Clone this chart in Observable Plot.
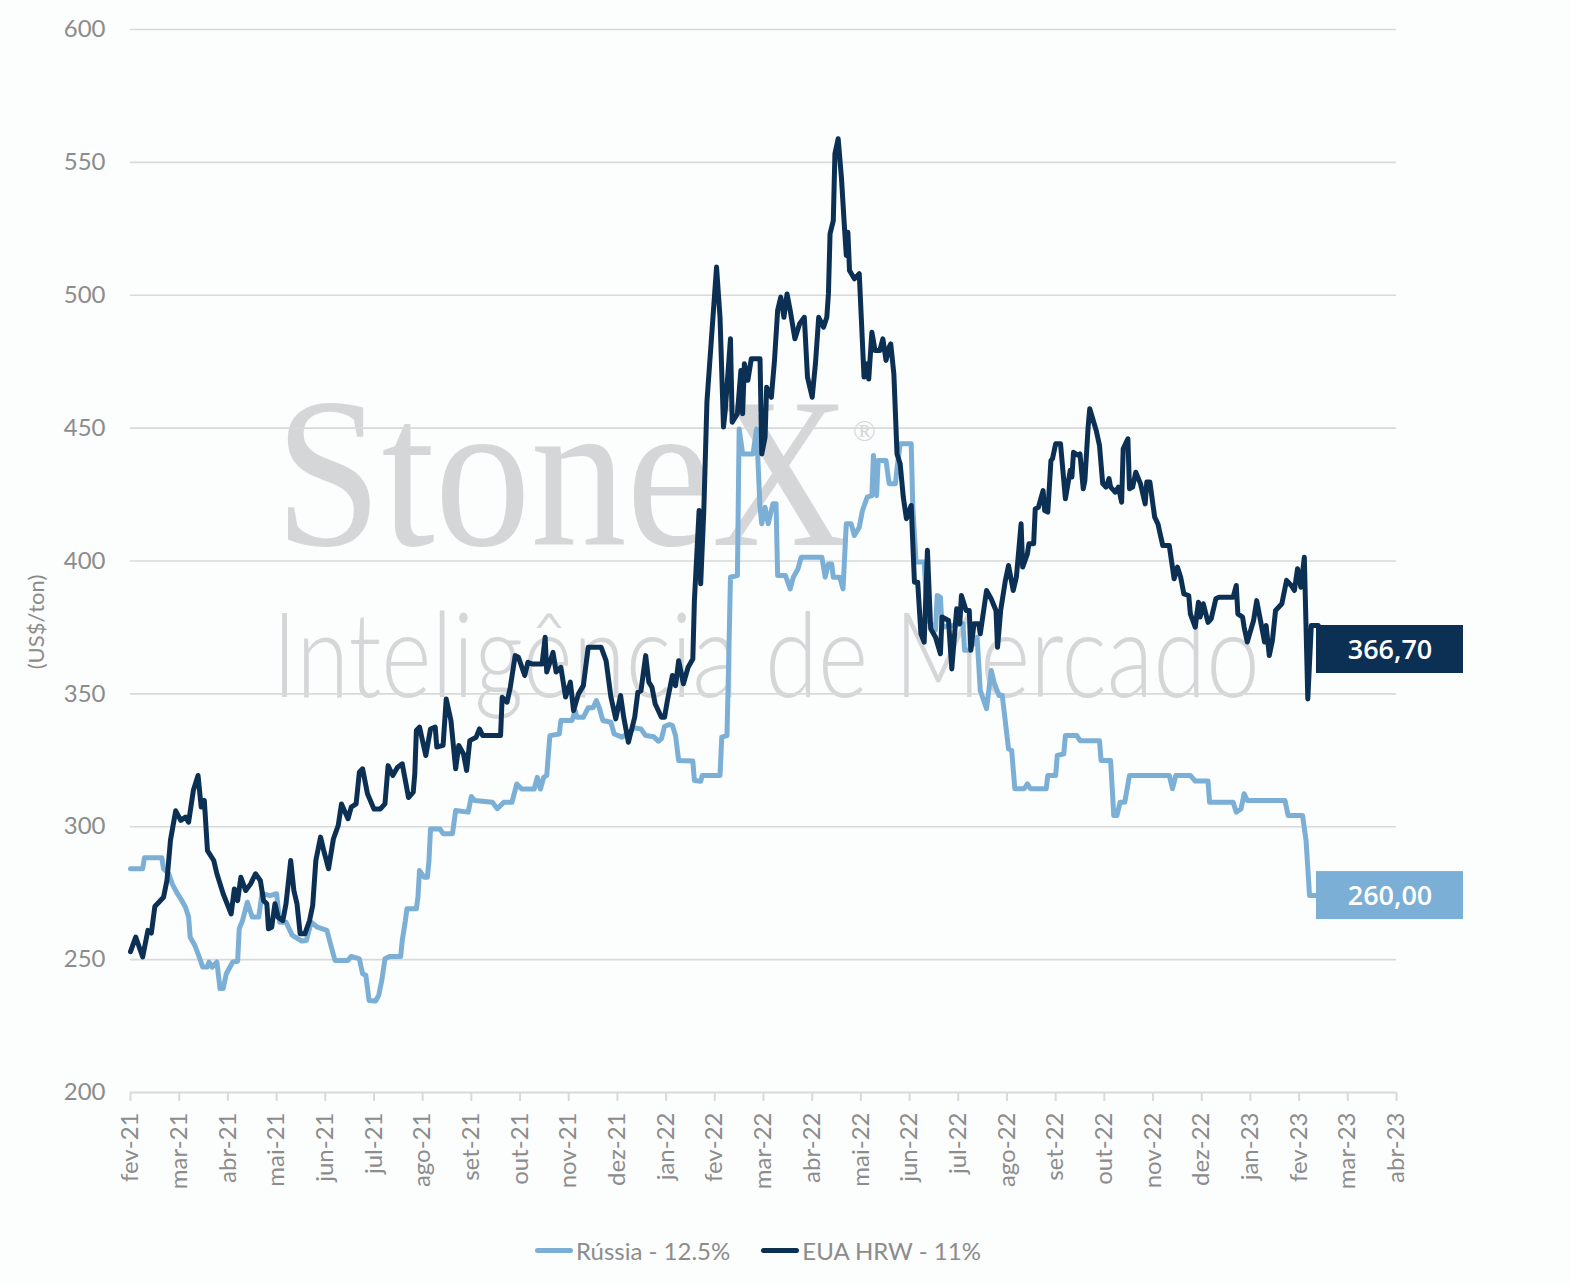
<!DOCTYPE html>
<html><head><meta charset="utf-8">
<script src="https://cdn.jsdelivr.net/npm/d3@7"></script>
<script src="https://cdn.jsdelivr.net/npm/@observablehq/plot@0.6"></script>
<style>
html,body{margin:0;padding:0;background:#fcfdfd;}
#wrap{position:relative;width:1571px;height:1285px;font-family:Lato,"Open Sans",sans-serif;}
#legend{position:absolute;left:535px;top:1236px;display:flex;align-items:center;font-size:24px;color:#8c8c8c;white-space:nowrap;}
#legend .item{display:flex;align-items:center;margin-right:31px;}
#legend .sw{width:38px;height:5px;border-radius:3px;margin-right:3px;}
</style></head><body><div id="wrap"></div>
<script>
const monthLabels = ["fev-21","mar-21","abr-21","mai-21","jun-21","jul-21","ago-21","set-21","out-21","nov-21","dez-21","jan-22","fev-22","mar-22","abr-22","mai-22","jun-22","jul-22","ago-22","set-22","out-22","nov-22","dez-22","jan-23","fev-23","mar-23","abr-23"];
const yTicks = [200,250,300,350,400,450,500,550,600];
const seriesNames = ["Rússia - 12.5%","EUA HRW - 11%"];
const seriesColors = ["#7bafd6","#0c3054"];
const yTitle = "(US$/ton)";

const russia = [["2021-02-01",284.2],["2021-02-08",284.2],["2021-02-09",288.3],["2021-02-19",288.3],["2021-02-20",284.2],["2021-02-23",282.3],["2021-02-25",278.5],["2021-02-28",274.8],["2021-03-02",272.9],["2021-03-05",269.7],["2021-03-07",266],["2021-03-08",258.4],["2021-03-11",255.3],["2021-03-13",252.2],["2021-03-16",247.2],["2021-03-19",247.2],["2021-03-20",249.1],["2021-03-22",247.2],["2021-03-25",249.1],["2021-03-27",239.1],["2021-03-29",239.1],["2021-03-31",244.7],["2021-04-04",249.1],["2021-04-07",249.4],["2021-04-08",261.6],["2021-04-10",264.7],["2021-04-13",271.6],["2021-04-16",266],["2021-04-20",266],["2021-04-22",274.8],["2021-04-27",274.1],["2021-05-01",274.8],["2021-05-03",264.1],["2021-05-07",264.1],["2021-05-11",259.1],["2021-05-17",257],["2021-05-20",257.2],["2021-05-23",264.1],["2021-05-27",262.2],["2021-06-02",261],["2021-06-05",254.1],["2021-06-07",249.7],["2021-06-15",249.7],["2021-06-17",251.2],["2021-06-22",250.3],["2021-06-24",244.7],["2021-06-26",244.1],["2021-06-28",234.6],["2021-07-02",234.4],["2021-07-04",236.5],["2021-07-06",242.2],["2021-07-08",250.3],["2021-07-11",251.2],["2021-07-18",251.2],["2021-07-19",257.2],["2021-07-21",264.7],["2021-07-22",269.1],["2021-07-28",269.1],["2021-07-29",273.5],["2021-07-30",283.5],["2021-08-02",281],["2021-08-04",281],["2021-08-05",287],["2021-08-06",299.2],["2021-08-12",299.2],["2021-08-14",297.4],["2021-08-20",297.4],["2021-08-22",306.1],["2021-08-30",305.5],["2021-09-01",311.4],["2021-09-03",309.9],["2021-09-14",309.2],["2021-09-17",306.8],["2021-09-21",309.2],["2021-09-26",309.2],["2021-09-29",316.1],["2021-10-02",314.2],["2021-10-10",314.2],["2021-10-12",318.6],["2021-10-14",314.2],["2021-10-16",318.6],["2021-10-18",319.3],["2021-10-20",334.3],["2021-10-26",334.9],["2021-10-27",340],["2021-11-03",340],["2021-11-05",343.7],["2021-11-06",341.2],["2021-11-10",341.2],["2021-11-13",344.8],["2021-11-16",344.8],["2021-11-18",347.5],["2021-11-20",344.4],["2021-11-22",340],["2021-11-27",339.3],["2021-11-29",334.9],["2021-12-04",333.7],["2021-12-07",334.9],["2021-12-12",337.2],["2021-12-16",336.8],["2021-12-19",334.3],["2021-12-24",333.9],["2021-12-27",332.2],["2021-12-29",333.1],["2021-12-31",337.7],["2022-01-03",338.5],["2022-01-05",338.1],["2022-01-07",334.3],["2022-01-09",324.9],["2022-01-18",324.7],["2022-01-19",317.4],["2022-01-23",317.1],["2022-01-24",319.3],["2022-02-04",319.3],["2022-02-05",333.7],["2022-02-08",334.3],["2022-02-09",362.5],["2022-02-10",393.9],["2022-02-14",394.5],["2022-02-15",449.7],["2022-02-17",440.3],["2022-02-23",440.3],["2022-02-25",449.7],["2022-02-27",420.2],["2022-02-28",414],["2022-03-02",420.2],["2022-03-04",414],["2022-03-07",421.5],["2022-03-09",421.5],["2022-03-10",394.5],["2022-03-15",394.5],["2022-03-18",389.5],["2022-03-20",393.9],["2022-03-23",397.1],["2022-03-25",401.4],["2022-04-07",401.4],["2022-04-09",393.9],["2022-04-11",398.9],["2022-04-13",398.9],["2022-04-14",393.9],["2022-04-18",393.9],["2022-04-20",389.5],["2022-04-22",414],["2022-04-25",414],["2022-04-27",409.6],["2022-04-30",412.7],["2022-05-02",419],["2022-05-05",424],["2022-05-08",424.6],["2022-05-09",439.7],["2022-05-11",424.6],["2022-05-12",437.8],["2022-05-17",437.8],["2022-05-19",429.1],["2022-05-23",429.1],["2022-05-24",434.7],["2022-05-26",444.1],["2022-06-02",444.1],["2022-06-03",420.2],["2022-06-05",399.6],["2022-06-10",399.6],["2022-06-12",378],["2022-06-17",374],["2022-06-18",387],["2022-06-20",386.4],["2022-06-21",375.1],["2022-07-04",376.4],["2022-07-05",366.4],["2022-07-08",366.4],["2022-07-13",371.3],["2022-07-15",351.3],["2022-07-19",344.4],["2022-07-22",358.8],["2022-07-24",353.8],["2022-07-27",349.4],["2022-07-29",349.4],["2022-08-02",329.3],["2022-08-04",328.7],["2022-08-06",314.3],["2022-08-12",314.3],["2022-08-14",316.1],["2022-08-16",314.3],["2022-08-26",314.3],["2022-08-27",319.3],["2022-09-01",319.3],["2022-09-02",326.8],["2022-09-06",327.4],["2022-09-07",334.3],["2022-09-14",334.3],["2022-09-16",332.4],["2022-09-28",332.4],["2022-09-29",324.9],["2022-10-05",324.9],["2022-10-07",304.2],["2022-10-09",304.2],["2022-10-11",309.2],["2022-10-14",309.2],["2022-10-17",319.3],["2022-11-11",319.3],["2022-11-13",314.3],["2022-11-15",319.3],["2022-11-24",319.3],["2022-11-27",317.2],["2022-12-05",317.2],["2022-12-06",309.2],["2022-12-21",309.2],["2022-12-23",305.5],["2022-12-26",306.7],["2022-12-28",312.4],["2022-12-30",309.9],["2023-01-23",309.9],["2023-01-25",304.2],["2023-02-03",304.2],["2023-02-05",294.8],["2023-02-07",274.1],["2023-02-13",274.1]];

const eua = [["2021-02-01",253],["2021-02-04",258.5],["2021-02-08",251],["2021-02-11",261],["2021-02-13",260],["2021-02-15",270],["2021-02-20",273.5],["2021-02-22",280],["2021-02-24",295],["2021-02-27",306],["2021-03-02",302.4],["2021-03-05",303.6],["2021-03-07",301.7],["2021-03-10",313.6],["2021-03-13",319.3],["2021-03-15",307.4],["2021-03-17",309.9],["2021-03-19",291],["2021-03-23",287.3],["2021-03-25",282.3],["2021-03-29",274.8],["2021-04-03",267.2],["2021-04-05",276.6],["2021-04-07",272.2],["2021-04-09",281],["2021-04-12",276],["2021-04-15",278.5],["2021-04-18",282.3],["2021-04-21",279.8],["2021-04-23",272.2],["2021-04-25",271],["2021-04-26",261.6],["2021-04-28",262.2],["2021-04-30",271],["2021-05-02",265.9],["2021-05-05",264.7],["2021-05-07",271],["2021-05-10",287.3],["2021-05-12",276],["2021-05-14",271],["2021-05-16",259.7],["2021-05-19",259.7],["2021-05-22",264.7],["2021-05-24",270.4],["2021-05-26",287.3],["2021-05-29",296.1],["2021-05-31",291.1],["2021-06-03",284.2],["2021-06-06",295.4],["2021-06-09",300.5],["2021-06-11",308.6],["2021-06-15",303],["2021-06-17",307.4],["2021-06-20",308.6],["2021-06-22",320.5],["2021-06-24",321.8],["2021-06-27",312.4],["2021-07-01",306.7],["2021-07-05",306.7],["2021-07-08",308.6],["2021-07-10",323],["2021-07-13",319.3],["2021-07-16",322.4],["2021-07-19",323.7],["2021-07-23",311],["2021-07-26",313],["2021-07-27",320],["2021-07-28",336.2],["2021-07-30",337.5],["2021-08-03",326.8],["2021-08-06",336.8],["2021-08-09",337.5],["2021-08-10",330],["2021-08-14",330.6],["2021-08-16",348.1],["2021-08-19",340],["2021-08-22",321.8],["2021-08-24",330.6],["2021-08-27",327.4],["2021-08-29",321.2],["2021-08-31",332.4],["2021-09-04",333.7],["2021-09-06",336.8],["2021-09-08",334.3],["2021-09-19",334.3],["2021-09-20",348.7],["2021-09-23",346.9],["2021-09-25",352.5],["2021-09-28",364.4],["2021-09-30",363.8],["2021-10-04",356.9],["2021-10-06",361.9],["2021-10-09",361.2],["2021-10-15",361.2],["2021-10-17",371.3],["2021-10-18",358.2],["2021-10-22",365.6],["2021-10-24",358.2],["2021-10-27",360],["2021-10-30",348.8],["2021-11-02",354.4],["2021-11-04",343.7],["2021-11-07",350],["2021-11-10",353.1],["2021-11-13",367.5],["2021-11-21",367.5],["2021-11-24",362.5],["2021-11-27",348.8],["2021-11-30",340.6],["2021-12-03",349.4],["2021-12-05",341.2],["2021-12-08",331.8],["2021-12-12",341.2],["2021-12-14",350.6],["2021-12-16",351.2],["2021-12-19",364.4],["2021-12-21",354.4],["2021-12-23",352.5],["2021-12-25",346.3],["2021-12-29",341.2],["2021-12-31",341.2],["2022-01-02",348.1],["2022-01-05",356.9],["2022-01-07",353.1],["2022-01-09",362.5],["2022-01-12",353.8],["2022-01-15",360],["2022-01-18",363.1],["2022-01-19",385],["2022-01-22",419],["2022-01-23",391.4],["2022-01-25",419],["2022-01-27",460],["2022-02-02",510.6],["2022-02-04",491.7],["2022-02-06",450.4],["2022-02-07",456.6],["2022-02-10",483.6],["2022-02-11",452.2],["2022-02-14",455.4],["2022-02-16",471.7],["2022-02-17",455.4],["2022-02-18",474.2],["2022-02-20",468],["2022-02-22",476.1],["2022-02-27",476.1],["2022-02-28",440.3],["2022-03-02",446.6],["2022-03-03",465.4],["2022-03-06",461.6],["2022-03-08",475.5],["2022-03-10",494.3],["2022-03-12",499.3],["2022-03-14",491.7],["2022-03-16",500.5],["2022-03-18",494.3],["2022-03-21",483.6],["2022-03-24",489.3],["2022-03-27",491.7],["2022-03-29",469.2],["2022-04-01",461.6],["2022-04-03",474.2],["2022-04-05",491.7],["2022-04-08",488],["2022-04-10",491.7],["2022-04-11",500.5],["2022-04-12",523.1],["2022-04-14",528.1],["2022-04-15",553.2],["2022-04-17",558.9],["2022-04-19",544.4],["2022-04-21",524.4],["2022-04-22",515],["2022-04-23",523.7],["2022-04-24",509.3],["2022-04-27",506.2],["2022-04-30",508.1],["2022-05-03",469.2],["2022-05-05",474.2],["2022-05-06",468.5],["2022-05-08",486.1],["2022-05-10",479.2],["2022-05-13",479.2],["2022-05-15",483.6],["2022-05-17",475.5],["2022-05-19",480.5],["2022-05-20",481.7],["2022-05-22",470.4],["2022-05-24",440.3],["2022-05-26",436.6],["2022-05-28",424],["2022-05-30",415.9],["2022-06-02",420.9],["2022-06-04",392],["2022-06-06",392],["2022-06-08",372.6],["2022-06-10",369.5],["2022-06-12",404],["2022-06-14",374.5],["2022-06-17",371.3],["2022-06-20",365.1],["2022-06-21",378.9],["2022-06-25",377.6],["2022-06-27",359.4],["2022-06-30",382],["2022-07-02",376.4],["2022-07-03",387],["2022-07-06",381.4],["2022-07-08",381.4],["2022-07-09",366.4],["2022-07-11",376.4],["2022-07-14",376.4],["2022-07-15",372.6],["2022-07-19",388.9],["2022-07-22",385.7],["2022-07-25",381.4],["2022-07-26",367.5],["2022-07-28",381.4],["2022-07-31",392.7],["2022-08-02",398.3],["2022-08-05",388.9],["2022-08-07",394],["2022-08-10",414],["2022-08-11",397.7],["2022-08-14",402.7],["2022-08-15",406.5],["2022-08-18",406.5],["2022-08-19",419.6],["2022-08-21",420.2],["2022-08-24",426.5],["2022-08-25",419],["2022-08-27",418.4],["2022-08-29",437.8],["2022-08-30",438.5],["2022-09-01",444.1],["2022-09-04",444.1],["2022-09-07",423.4],["2022-09-10",434.1],["2022-09-11",431.6],["2022-09-12",440.9],["2022-09-15",439.7],["2022-09-16",440.3],["2022-09-18",427.2],["2022-09-19",430.3],["2022-09-21",450.4],["2022-09-22",457.3],["2022-09-26",449.1],["2022-09-28",443.5],["2022-09-30",429.1],["2022-10-02",427.8],["2022-10-04",431],["2022-10-05",427.8],["2022-10-08",425.9],["2022-10-10",427.8],["2022-10-12",422.1],["2022-10-13",442.2],["2022-10-16",446],["2022-10-17",427.2],["2022-10-19",427.8],["2022-10-21",433.4],["2022-10-24",429.1],["2022-10-27",421.5],["2022-10-28",429.7],["2022-10-30",429.7],["2022-11-02",416.5],["2022-11-04",414],["2022-11-07",405.8],["2022-11-11",405.8],["2022-11-14",393.3],["2022-11-16",397.7],["2022-11-18",394],["2022-11-20",387.6],["2022-11-23",387],["2022-11-24",380.1],["2022-11-27",375.1],["2022-11-29",384.5],["2022-11-30",378.9],["2022-12-02",383.9],["2022-12-05",376.9],["2022-12-07",378.2],["2022-12-10",385.8],["2022-12-12",386.4],["2022-12-21",386.4],["2022-12-23",390.8],["2022-12-24",380.1],["2022-12-27",378.9],["2022-12-28",375.1],["2022-12-30",369.5],["2023-01-03",377.6],["2023-01-05",385.1],["2023-01-08",375.7],["2023-01-10",369.5],["2023-01-11",375.7],["2023-01-13",364.4],["2023-01-15",370.1],["2023-01-17",381.4],["2023-01-21",383.9],["2023-01-24",392.7],["2023-01-27",390.8],["2023-01-29",388.9],["2023-01-31",397.1],["2023-02-02",390.1],["2023-02-04",401.4],["2023-02-06",348.1],["2023-02-08",375.7],["2023-02-12",375.7]];

// end-of-series value labels (text, anchor value)
const endLabels = [
  {series: 1, text: "366,70", at: 366.7},
  {series: 0, text: "260,00", at: 274.1}
];

// fractional month index since fev-21 (Excel-like equal month spacing)
function monthIndex(s){
  const [y,m,d] = s.split("-").map(Number);
  const dim = new Date(Date.UTC(y, m, 0)).getUTCDate();
  return (y-2021)*12 + (m-2) + (d-1)/dim;
}
const rows = [
  ...russia.map(([d,v]) => ({s: seriesNames[0], t: monthIndex(d), v})),
  ...eua.map(([d,v]) => ({s: seriesNames[1], t: monthIndex(d), v}))
];

const plot = Plot.plot({
  width: 1571, height: 1215,
  marginLeft: 130, marginRight: 175, marginTop: 29, marginBottom: 123,
  style: {background: "transparent", fontFamily: "Lato, 'Open Sans', sans-serif", fontSize: "24px", color: "#8c8c8c", overflow: "visible"},
  x: {domain: [0, 26], label: null},
  y: {domain: [200, 600], label: null},
  color: {domain: seriesNames, range: seriesColors},
  marks: [
    Plot.gridY(yTicks.filter(v => v > 200), {stroke: "#d9d9d9", strokeOpacity: 1, strokeWidth: 1.6}),
    Plot.ruleY([200], {stroke: "#d9d9d9", strokeWidth: 2}),
    Plot.axisY(yTicks, {tickSize: 0, tickPadding: 25, fill: "#8c8c8c", fontSize: 24, label: null}),
    Plot.axisX(d3.range(0, 27), {tickFormat: i => monthLabels[i], tickRotate: -90, tickSize: 9, tickPadding: 11, stroke: "#d9d9d9", strokeWidth: 2, fill: "#8c8c8c", fontSize: 24, label: null}),
    Plot.lineY(rows, {x: "t", y: "v", z: "s", stroke: "s", strokeWidth: 5, strokeLinejoin: "round", strokeLinecap: "round"})
  ]
});

const svg = d3.select(plot);
const ys = plot.scale("y");

// watermark (behind everything)
const wm = svg.insert("g", ":first-child").attr("fill", "#d5d6d8").attr("text-anchor", "start");
wm.append("text").attr("x", 275).attr("y", 545).attr("font-family", "'Liberation Serif', 'DejaVu Serif', serif")
  .attr("font-size", 215).attr("textLength", 575).attr("lengthAdjust", "spacingAndGlyphs").text("StoneX");
wm.append("text").attr("x", 853).attr("y", 441).attr("font-family", "'Liberation Serif', serif").attr("font-size", 30).text("®");
wm.append("text").attr("x", 272).attr("y", 697).attr("font-family", "Lato, 'Open Sans', sans-serif").attr("font-weight", 300)
  .attr("font-size", 118).attr("textLength", 988).attr("lengthAdjust", "spacingAndGlyphs").text("Inteligência de Mercado");

// y title
svg.append("text").attr("transform", "translate(44,622) rotate(-90)").attr("text-anchor", "middle")
  .attr("fill", "#8c8c8c").attr("font-size", 22).attr("font-family", "Lato, 'Open Sans', sans-serif").text(yTitle);

// end labels
for (const l of endLabels) {
  const cy = ys.apply(l.at);
  svg.append("rect").attr("x", 1316).attr("y", cy - 24).attr("width", 147).attr("height", 48).attr("fill", seriesColors[l.series]);
  svg.append("text").attr("x", 1390).attr("y", cy).attr("dy", "0.36em").attr("text-anchor", "middle")
    .attr("fill", "#ffffff").attr("font-size", 27).attr("font-weight", 600)
    .attr("font-family", "'Open Sans', Lato, sans-serif").text(l.text);
}

const wrap = document.getElementById("wrap");
wrap.appendChild(plot);

const legend = document.createElement("div");
legend.id = "legend";
seriesNames.forEach((n, i) => {
  const it = document.createElement("div"); it.className = "item";
  const sw = document.createElement("span"); sw.className = "sw"; sw.style.background = seriesColors[i];
  const tx = document.createElement("span"); tx.textContent = n;
  it.appendChild(sw); it.appendChild(tx); legend.appendChild(it);
});
wrap.appendChild(legend);
</script></body></html>
